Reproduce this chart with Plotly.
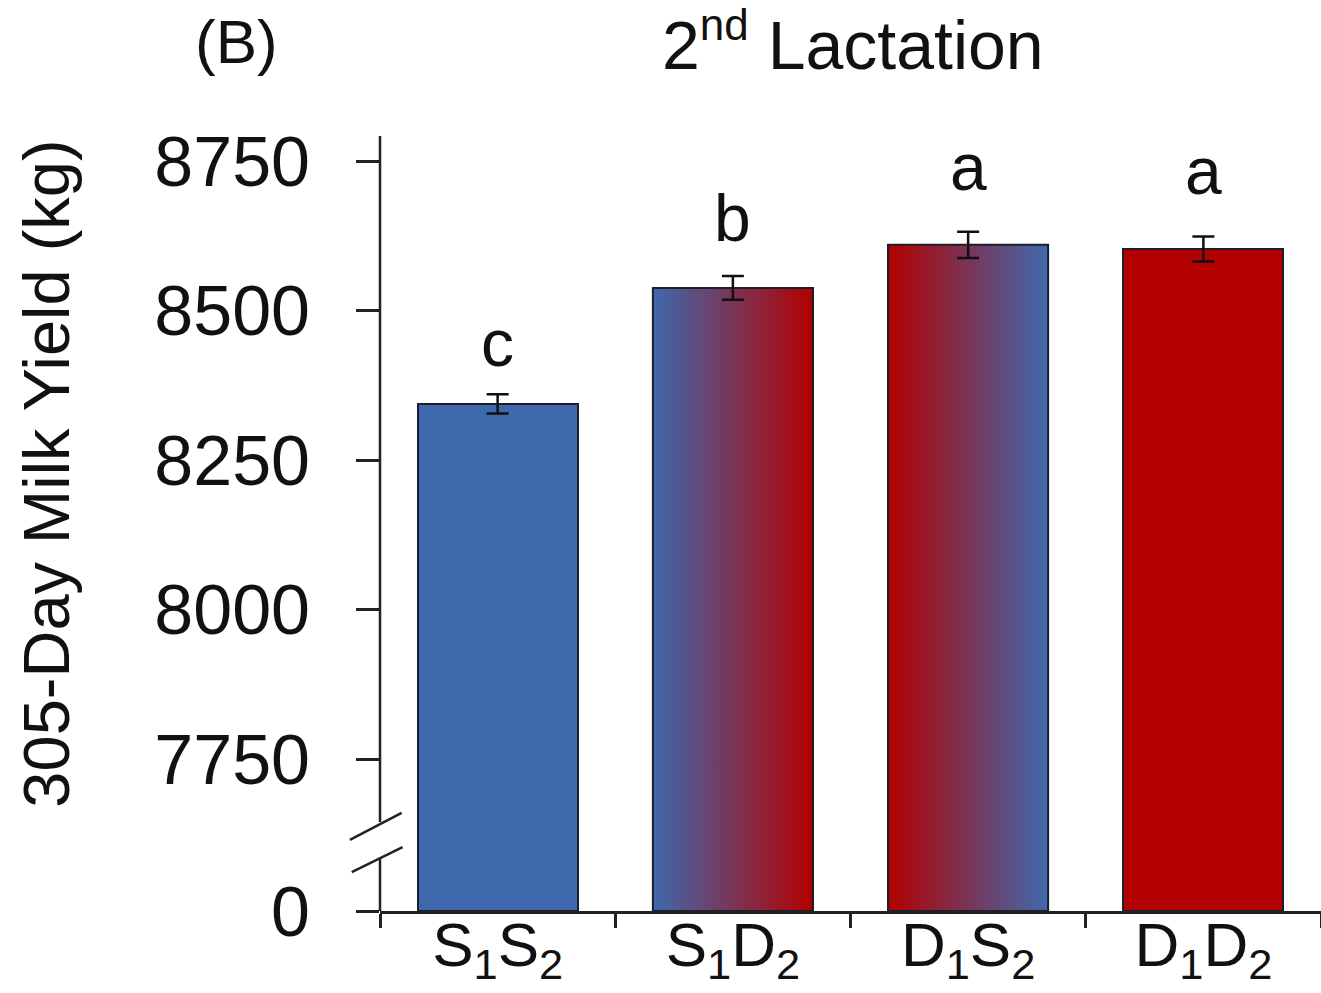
import plotly.graph_objects as go

# ---- data ----
categories = ["S<sub>1</sub>S<sub>2</sub>", "S<sub>1</sub>D<sub>2</sub>",
              "D<sub>1</sub>S<sub>2</sub>", "D<sub>1</sub>D<sub>2</sub>"]
milk_yield = [8344, 8538, 8610, 8603]
yield_se = [16, 20, 22, 21]
sig_letters = ["c", "b", "a", "a"]
ytick_values = [7750, 8000, 8250, 8500, 8750]

# ---- style ----
BLUE = "#3F69AD"
RED = "#B30000"
EDGE = "#1e1e2a"
FONT = "Liberation Sans, Arial, sans-serif"
fills = [("solid", BLUE), ("grad", (BLUE, RED)), ("grad", (RED, BLUE)), ("solid", RED)]
BASE = 7496          # where the broken axis places "0"
YTOP = 8797
BAR_W = 0.68

xs = list(range(len(categories)))
fig = go.Figure()

# solid bars
for i, (kind, col) in enumerate(fills):
    c = col if kind == "solid" else col[0]
    fig.add_trace(go.Bar(
        x=[xs[i]], y=[milk_yield[i] - BASE], base=[BASE], width=BAR_W,
        marker=dict(color=c, line=dict(color=EDGE, width=2)),
        showlegend=False, hoverinfo="skip"))

# gradient bars drawn as filled polygons from the same values
for i, (kind, col) in enumerate(fills):
    if kind != "grad":
        continue
    x0, x1 = xs[i] - BAR_W / 2, xs[i] + BAR_W / 2
    fig.add_trace(go.Scatter(
        x=[x0, x1, x1, x0, x0],
        y=[BASE, BASE, milk_yield[i], milk_yield[i], BASE],
        mode="lines", fill="toself",
        fillgradient=dict(type="horizontal",
                          colorscale=[[0, col[0]], [1, col[1]]]),
        line=dict(color=EDGE, width=2),
        showlegend=False, hoverinfo="skip"))

# error bars
fig.add_trace(go.Scatter(
    x=xs, y=milk_yield, mode="markers",
    marker=dict(size=1, opacity=0),
    error_y=dict(type="data", array=yield_se, visible=True,
                 color="#111111", thickness=2.5, width=11),
    showlegend=False, hoverinfo="skip"))

# significance letters
LETTER_SHIFT = {"a": 26, "b": 19, "c": 12}
for i, lab in enumerate(sig_letters):
    fig.add_annotation(x=xs[i], y=milk_yield[i] + yield_se[i], text=lab,
                       showarrow=False, xanchor="center", yanchor="bottom",
                       yshift=LETTER_SHIFT[lab],
                       font=dict(size=66, color="#111111", family=FONT))

# broken y-axis line
GAP_HI, GAP_LO = 7645, 7585
AX = dict(type="line", xref="paper", yref="y", line=dict(color="#222222", width=2.5))
fig.add_shape(**AX, x0=0, x1=0, y0=GAP_HI, y1=YTOP - 5)
fig.add_shape(**AX, x0=0, x1=0, y0=BASE, y1=GAP_LO)
fig.add_shape(**AX, x0=-0.032, x1=0.023, y0=7615, y1=7660)
fig.add_shape(**AX, x0=-0.030, x1=0.024, y0=7561, y1=7603)

# title, panel label, y title
fig.add_annotation(x=0.503, y=1.118, xref="paper", yref="paper",
                   text="2<sup><span style='font-size:44px'>nd</span></sup> Lactation",
                   showarrow=False, xanchor="center", yanchor="middle",
                   font=dict(size=68, color="#111111", family=FONT))
fig.add_annotation(x=-0.153, y=1.118, xref="paper", yref="paper",
                   text="(B)", showarrow=False, xanchor="center", yanchor="middle",
                   font=dict(size=62, color="#111111", family=FONT))
fig.add_annotation(x=-0.354, y=0.562, xref="paper", yref="paper",
                   text="305-Day Milk Yield (kg)", showarrow=False, textangle=-90,
                   xanchor="center", yanchor="middle",
                   font=dict(size=65, color="#111111", family=FONT))

fig.update_layout(
    width=1321, height=993,
    margin=dict(l=380, r=0, t=133, b=82),
    plot_bgcolor="white", paper_bgcolor="white",
    font=dict(family=FONT, color="#111111"),
    bargap=0,
    xaxis=dict(range=[-0.5, 3.5], tickmode="array", tickvals=xs, ticktext=categories,
               automargin=False, ticklabelstandoff=-22,
               ticks="", ticklen=0, showgrid=False, zeroline=False,
               showline=True, linecolor="#222222", linewidth=2.5,
               tickfont=dict(size=62, family=FONT, color="#111111"),
               minor=dict(tickmode="linear", tick0=-0.5, dtick=1, ticks="outside",
                          ticklen=14, tickwidth=2.5, tickcolor="#222222", showgrid=False)),
    yaxis=dict(range=[BASE, YTOP], tickmode="array",
               tickvals=[BASE] + ytick_values,
               ticktext=["0"] + [str(v) for v in ytick_values],
               automargin=False,
               ticks="outside", ticklen=23, tickwidth=2.5, tickcolor="#222222",
               showgrid=False, zeroline=False, showline=False,
               ticklabelstandoff=32,
               tickfont=dict(size=70, family=FONT, color="#111111")),
)

fig.write_html("out.html", config={"displayModeBar": False},
               post_script="document.body.style.margin='0';")
